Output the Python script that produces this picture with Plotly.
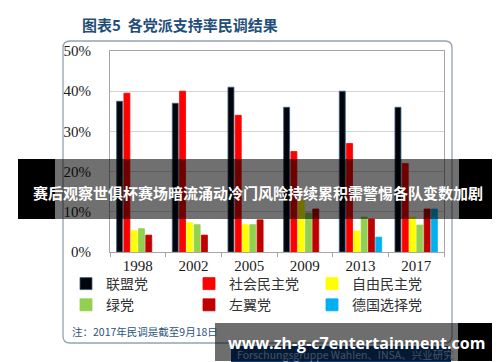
import plotly.graph_objects as go

years = ["1998", "2002", "2005", "2009", "2013", "2017"]
parties = ["联盟党", "社会民主党", "自由民主党", "绿党", "左翼党", "德国选择党"]
cdu = [37.5, 37.0, 41.0, 36.0, 40.0, 36.0]
spd = [39.5, 40.0, 34.0, 25.0, 27.0, 22.0]
fdp = [5.3, 7.3, 6.8, 13.0, 5.2, 8.7]
gruene = [5.8, 6.8, 6.8, 9.7, 8.7, 6.7]
linke = [4.2, 4.2, 8.0, 10.7, 8.2, 10.7]
afd = [None, None, None, None, 3.7, 10.7]
series = [cdu, spd, fdp, gruene, linke, afd]
colors = ["#02060c", "#ff0000", "#ffff00", "#92d050", "#c00000", "#00b0f0"]

title_text = "图表5  各党派支持率民调结果"
note_text = "注：2017年民调是截至9月18日"
source_text = "Forschungsgruppe Wahlen、INSA、兴业研究"
banner_text = "赛后观察世俱杯赛场暗流涌动冷门风险持续累积需警惕各队变数加剧"
watermark_text = "www.zh-g-c7entertainment.com"

W, H = 500, 362
L, R, T, B = 102, 436, 43, 244


def px(x):
    return (x - L) / (R - L)


def py(y):
    return (B - y) / (B - T)


fig = go.Figure()
for name, vals, col in zip(parties, series, colors):
    fig.add_trace(go.Bar(
        x=years, y=vals, name=name,
        marker=dict(color=col, line=dict(width=0.8, color="#3d5f80" if name == "联盟党" else col)),
    ))


def rounded(x0, y0, x1, y1, r):
    pts = [
        f"M{px(x0 + r)},{py(y0)}",
        f"L{px(x1 - r)},{py(y0)}",
        f"Q{px(x1)},{py(y0)} {px(x1)},{py(y0 + r)}",
        f"L{px(x1)},{py(y1 - r)}",
        f"Q{px(x1)},{py(y1)} {px(x1 - r)},{py(y1)}",
        f"L{px(x0 + r)},{py(y1)}",
        f"Q{px(x0)},{py(y1)} {px(x0)},{py(y1 - r)}",
        f"L{px(x0)},{py(y0 + r)}",
        f"Q{px(x0)},{py(y0)} {px(x0 + r)},{py(y0)}",
        "Z",
    ]
    return " ".join(pts)


def rect(x0, y0, x1, y1, color, layer="above"):
    return dict(type="rect", xref="paper", yref="paper",
                x0=px(x0), x1=px(x1), y0=py(y1), y1=py(y0),
                fillcolor=color, line=dict(width=0), layer=layer)


shapes = [
    dict(type="path", xref="paper", yref="paper", path=rounded(55, 33, 444, 335, 7),
         line=dict(color="#93a3b0", width=1.3), fillcolor="rgba(0,0,0,0)", layer="below"),
    # source footer box (under watermark)
    dict(type="path", xref="paper", yref="paper", path=rounded(223, 338, 443, 357, 3),
         line=dict(width=0), fillcolor="#0b3d7a", layer="above",
         label=dict(text=source_text, textposition="middle left", padding=3,
                    font=dict(family="Noto Sans CJK SC", size=10.5, color="#9cbde6"))),
    # banner
    rect(10, 151, 47, 211, "#000000"),
    rect(47, 151, 451, 211, "rgba(0,0,0,0.56)"),
    rect(451, 151, 490, 211, "#000000"),
    # watermark
    rect(207, 315, 450, 353, "rgba(0,0,0,0.57)"),
    rect(450, 315, 490, 353, "#000000"),
]

annotations = [
    dict(text=title_text, xref="paper", yref="paper", x=px(72), y=py(16),
         xanchor="left", yanchor="middle", showarrow=False,
         font=dict(family="Noto Sans CJK SC", size=15, color="#1f4e79", weight=600)),
    dict(text=note_text, xref="paper", yref="paper", x=px(62), y=py(323),
         xanchor="left", yanchor="middle", showarrow=False,
         font=dict(family="Noto Sans CJK SC", size=10.5, color="#2b5478")),
    dict(text=banner_text, xref="paper", yref="paper", x=px(250), y=py(184),
         xanchor="center", yanchor="middle", showarrow=False,
         font=dict(family="Noto Sans CJK SC", size=15, color="#ffffff", weight=700)),
    dict(text=watermark_text, xref="paper", yref="paper", x=px(348), y=py(335),
         xanchor="center", yanchor="middle", showarrow=False,
         font=dict(family="Open Sans", size=16, color="#ffffff", weight=700)),
]

fig.update_layout(
    width=W, height=H,
    margin=dict(l=L, r=W - R, t=T, b=H - B, autoexpand=False),
    paper_bgcolor="#ffffff", plot_bgcolor="#ffffff",
    barmode="group", bargap=0.215, bargroupgap=0.18,
    showlegend=True,
    legend=dict(orientation="h", x=px(58), y=py(260), xanchor="left", yanchor="top",
                entrywidth=78, itemwidth=30, traceorder="normal", tracegroupgap=0,
                font=dict(family="Noto Sans CJK SC", size=14, color="#333333"),
                bgcolor="rgba(0,0,0,0)"),
    shapes=shapes, annotations=annotations,
)
fig.update_xaxes(
    type="category", showline=True, linecolor="#a6a6a6", linewidth=1, mirror=True,
    ticks="outside", tickson="boundaries", ticklen=4, tickcolor="#a6a6a6",
    ticklabelstandoff=0,
    tickfont=dict(family="Liberation Serif", size=15, color="#1a1a1a"),
    showgrid=False,
)
fig.update_yaxes(
    range=[0, 50], dtick=10, ticksuffix="%",
    showline=True, linecolor="#a6a6a6", linewidth=1, mirror=True,
    showgrid=True, gridcolor="#d4d4d4", gridwidth=1, zeroline=False,
    ticks="", ticklabelstandoff=15,
    tickfont=dict(family="Liberation Serif", size=15, color="#1a1a1a"),
)

fig.write_html("out.html")
